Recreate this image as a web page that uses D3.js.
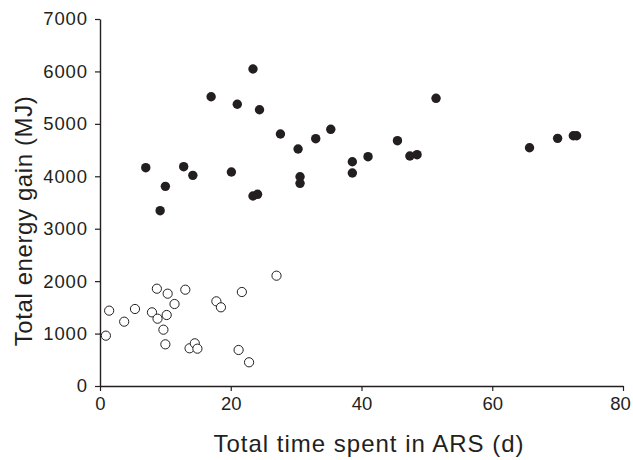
<!DOCTYPE html>
<html>
<head>
<meta charset="utf-8">
<script src="https://cdn.jsdelivr.net/npm/d3@7"></script>
<style>
  body { margin: 0; background: #fff; }
  svg { display: block; font-family: "Liberation Sans", Arial, sans-serif; }
</style>
</head>
<body>
<svg id="chart" width="633" height="460"></svg>
<script>
// filled circles (upper group)
const filledX = [7.0, 9.2, 10.0, 12.8, 14.2, 17.0, 20.1, 21.0, 23.4, 24.4, 23.4, 24.1, 27.6, 30.3, 30.6, 30.6, 33.0, 35.3, 38.6, 38.6, 41.0, 45.5, 47.4, 48.5, 51.4, 65.7, 70.0, 72.4, 72.9];
const filledY = [4164, 3344, 3808, 4183, 4018, 5518, 4082, 5373, 6046, 5270, 3624, 3656, 4806, 4520, 3992, 3866, 4717, 4896, 4278, 4063, 4374, 4679, 4387, 4412, 5487, 4545, 4724, 4774, 4774];

// open circles (lower group)
const openX = [1.4, 0.9, 3.7, 5.35, 7.95, 8.7, 8.8, 10.2, 10.35, 9.7, 10.0, 11.4, 13.05, 13.7, 14.5, 14.9, 17.8, 18.5, 21.7, 21.2, 22.8, 27.0];
const openY = [1437, 960, 1227, 1469, 1405, 1856, 1284, 1354, 1761, 1074, 795, 1564, 1837, 719, 814, 712, 1615, 1501, 1793, 687, 452, 2104];

const xTicks = [0, 20, 40, 60, 80];
const yTicks = [0, 1000, 2000, 3000, 4000, 5000, 6000, 7000];

const svg = d3.select("#chart");
const ink = "#231f20";

const x = d3.scaleLinear().domain([0, 80]).range([100, 623]);
const y = d3.scaleLinear().domain([0, 7000]).range([386, 19]);

// axes
const xAxis = svg.append("g")
  .attr("transform", "translate(0,386)")
  .call(d3.axisBottom(x).tickValues(xTicks).tickFormat(d3.format("d"))
    .tickSize(5).tickSizeOuter(0).tickPadding(6));

const yAxis = svg.append("g")
  .attr("transform", "translate(100,0)")
  .call(d3.axisLeft(y).tickValues(yTicks).tickFormat(d3.format("d"))
    .tickSize(5).tickSizeOuter(0).tickPadding(7));

[xAxis, yAxis].forEach(a => {
  a.select(".domain").attr("stroke", ink).attr("stroke-width", 1.4);
  a.selectAll(".tick line").attr("stroke", ink).attr("stroke-width", 1.2);
  a.selectAll(".tick text")
    .attr("fill", ink)
    .attr("font-size", "18.5px")
    .attr("font-family", "Liberation Sans, Arial, sans-serif");
});
yAxis.selectAll(".tick text").attr("letter-spacing", "0.9px");
// last x label sits right at the edge
xAxis.selectAll(".tick text").filter(d => d === 80).attr("dx", -3);

// axis titles
svg.append("text")
  .attr("x", 369)
  .attr("y", 452)
  .attr("text-anchor", "middle")
  .attr("font-size", "24px")
  .attr("letter-spacing", "1px")
  .attr("fill", ink)
  .text("Total time spent in ARS (d)");

svg.append("text")
  .attr("transform", "translate(32,221) rotate(-90)")
  .attr("text-anchor", "middle")
  .attr("font-size", "24px")
  .attr("letter-spacing", "0.6px")
  .attr("fill", ink)
  .text("Total energy gain (MJ)");

// points
svg.append("g")
  .selectAll("circle")
  .data(d3.zip(openX, openY))
  .join("circle")
  .attr("cx", d => x(d[0]))
  .attr("cy", d => y(d[1]))
  .attr("r", 4.6)
  .attr("fill", "#fff")
  .attr("stroke", ink)
  .attr("stroke-width", 1);

svg.append("g")
  .selectAll("circle")
  .data(d3.zip(filledX, filledY))
  .join("circle")
  .attr("cx", d => x(d[0]))
  .attr("cy", d => y(d[1]))
  .attr("r", 4.7)
  .attr("fill", ink);
</script>
</body>
</html>
